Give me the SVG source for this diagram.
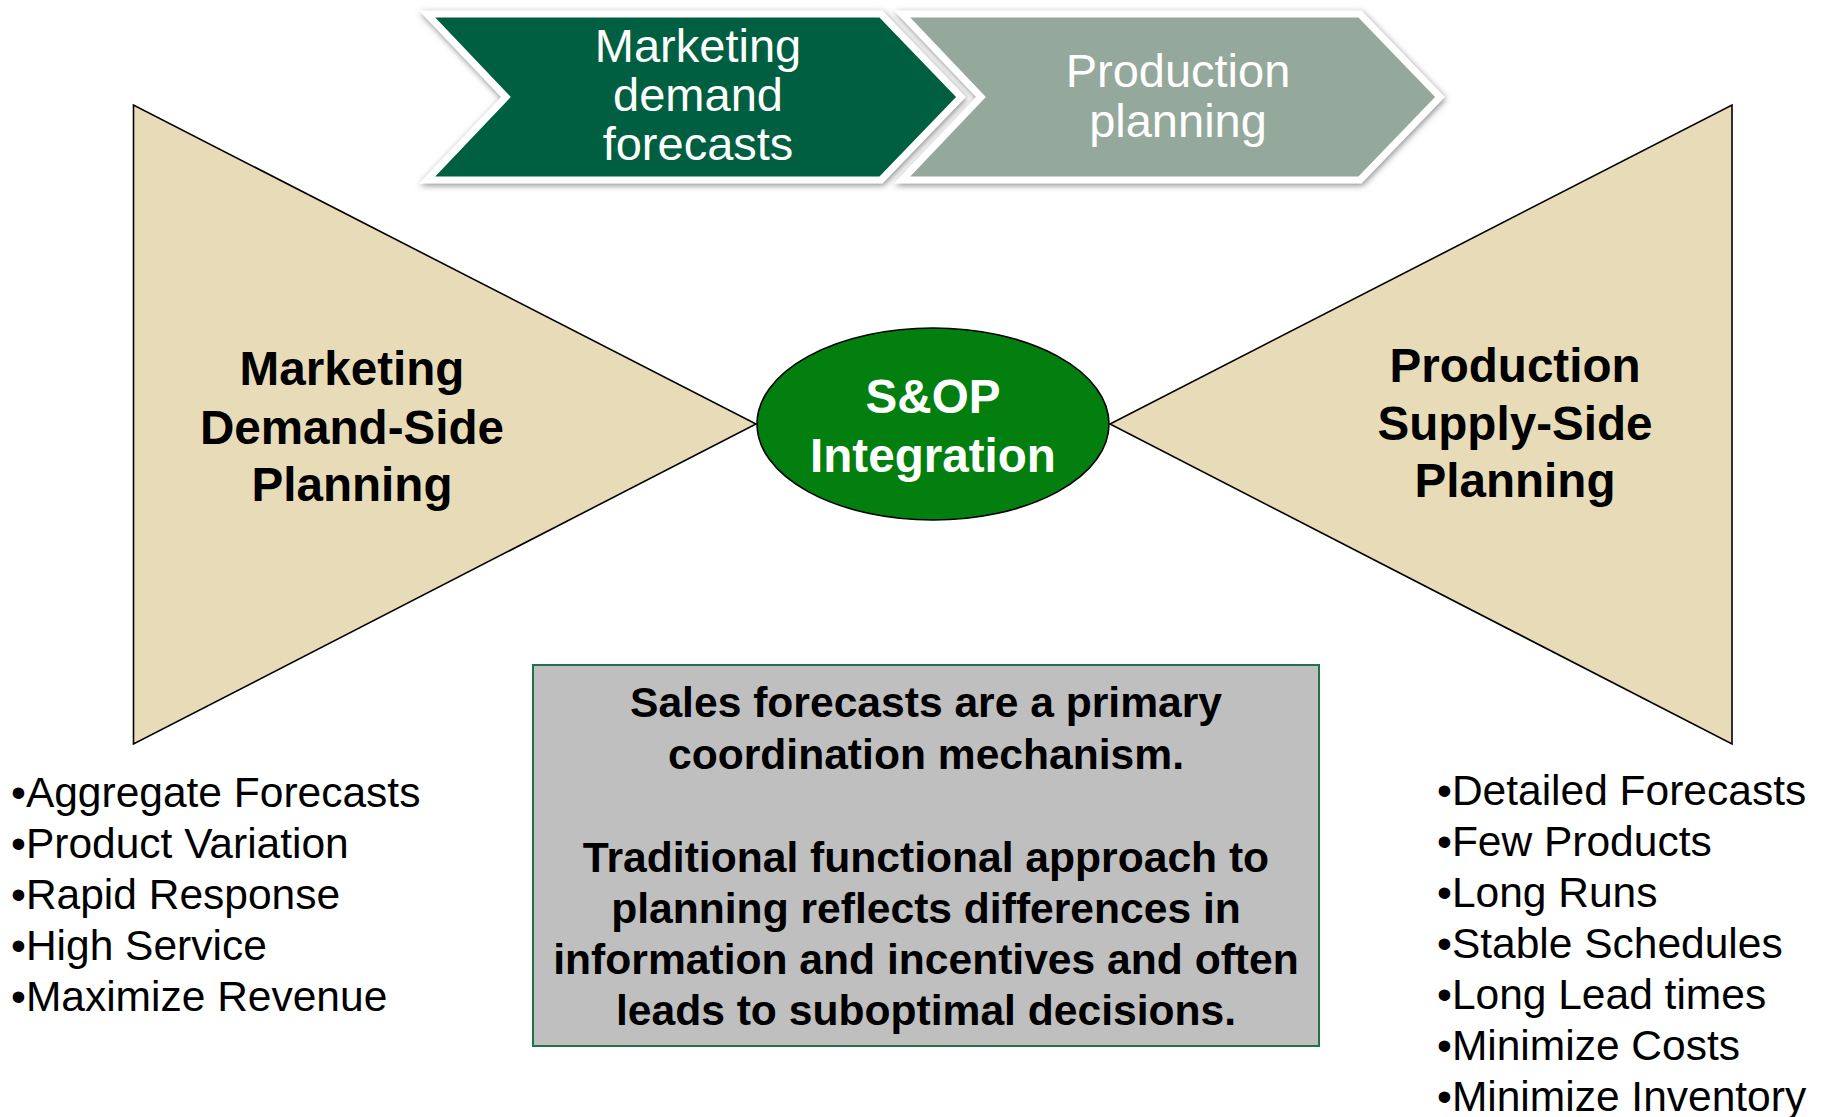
<svg xmlns="http://www.w3.org/2000/svg" width="1823" height="1117" viewBox="0 0 1823 1117">
  <defs>
    <filter id="glow" x="-10%" y="-20%" width="120%" height="140%">
      <feDropShadow dx="1" dy="2" stdDeviation="3" flood-color="#7f7f7f" flood-opacity="0.9"/>
    </filter>
  </defs>
  <style>
    text { font-family: "Liberation Sans", Arial, sans-serif; text-anchor: middle; }
    .chev { stroke: #ffffff; stroke-width: 7; stroke-linejoin: miter; filter: url(#glow); }
    .chev-t { fill: #ffffff; font-size: 47px; }
    .wing { fill: #e8dcb8; stroke: #000000; stroke-width: 1.6; }
    .wing-t { fill: #000000; font-size: 47.6px; font-weight: bold; }
    .hub-t { fill: #ffffff; font-size: 47.6px; font-weight: bold; }
    .note-t { fill: #000000; font-size: 42.6px; font-weight: bold; }
    .list { fill: #000000; font-size: 42.5px; text-anchor: start; }
  </style>

  <rect width="1823" height="1117" fill="#ffffff"/>

  <!-- demand side wedge -->
  <g id="demand-side">
    <polygon class="wing" points="133.5,105 133.5,744 756,424"/>
    <text class="wing-t" x="352" y="385">Marketing</text>
    <text class="wing-t" x="352" y="443.5">Demand-Side</text>
    <text class="wing-t" x="352" y="501">Planning</text>
  </g>

  <!-- supply side wedge -->
  <g id="supply-side">
    <polygon class="wing" points="1732,105 1732,744 1110,424"/>
    <text class="wing-t" x="1515" y="382">Production</text>
    <text class="wing-t" x="1515" y="440">Supply-Side</text>
    <text class="wing-t" x="1515" y="497">Planning</text>
  </g>

  <!-- central integration hub -->
  <g id="sop-integration">
    <ellipse cx="933" cy="424" rx="176" ry="96" fill="#037f10" stroke="#000000" stroke-width="1.6"/>
    <text class="hub-t" x="933" y="413">S&amp;OP</text>
    <text class="hub-t" x="933" y="471.5">Integration</text>
  </g>

  <!-- process chevrons -->
  <g id="marketing-forecasts">
    <polygon class="chev" fill="#035e3f" points="427,14 881,14 961,97 881,180 427,180 506,97"/>
    <text class="chev-t" x="698" y="62">Marketing</text>
    <text class="chev-t" x="698" y="111">demand</text>
    <text class="chev-t" x="698" y="160">forecasts</text>
  </g>

  <g id="production-planning">
    <polygon class="chev" fill="#94a99b" points="902,14 1360,14 1440,97 1360,180 902,180 981,97"/>
    <text class="chev-t" x="1178" y="87">Production</text>
    <text class="chev-t" x="1178" y="137">planning</text>
  </g>

  <!-- coordination note -->
  <g id="coordination-note">
    <rect x="533" y="665" width="786" height="381" fill="#bfbfbf" stroke="#217346" stroke-width="2"/>
    <text class="note-t" x="926" y="717">Sales forecasts are a primary</text>
    <text class="note-t" x="926" y="768.5">coordination mechanism.</text>
    <text class="note-t" x="926" y="871.5">Traditional functional approach to</text>
    <text class="note-t" x="926" y="923">planning reflects differences in</text>
    <text class="note-t" x="926" y="974">information and incentives and often</text>
    <text class="note-t" x="926" y="1025">leads to suboptimal decisions.</text>
  </g>

  <!-- demand side characteristics -->
  <g id="demand-list">
    <text class="list" x="11" y="807">•Aggregate Forecasts</text>
    <text class="list" x="11" y="858">•Product Variation</text>
    <text class="list" x="11" y="909">•Rapid Response</text>
    <text class="list" x="11" y="960">•High Service</text>
    <text class="list" x="11" y="1011">•Maximize Revenue</text>
  </g>

  <!-- supply side characteristics -->
  <g id="supply-list">
    <text class="list" x="1437" y="805">•Detailed Forecasts</text>
    <text class="list" x="1437" y="856">•Few Products</text>
    <text class="list" x="1437" y="907">•Long Runs</text>
    <text class="list" x="1437" y="958">•Stable Schedules</text>
    <text class="list" x="1437" y="1009">•Long Lead times</text>
    <text class="list" x="1437" y="1060">•Minimize Costs</text>
    <text class="list" x="1437" y="1111">•Minimize Inventory</text>
  </g>
</svg>
